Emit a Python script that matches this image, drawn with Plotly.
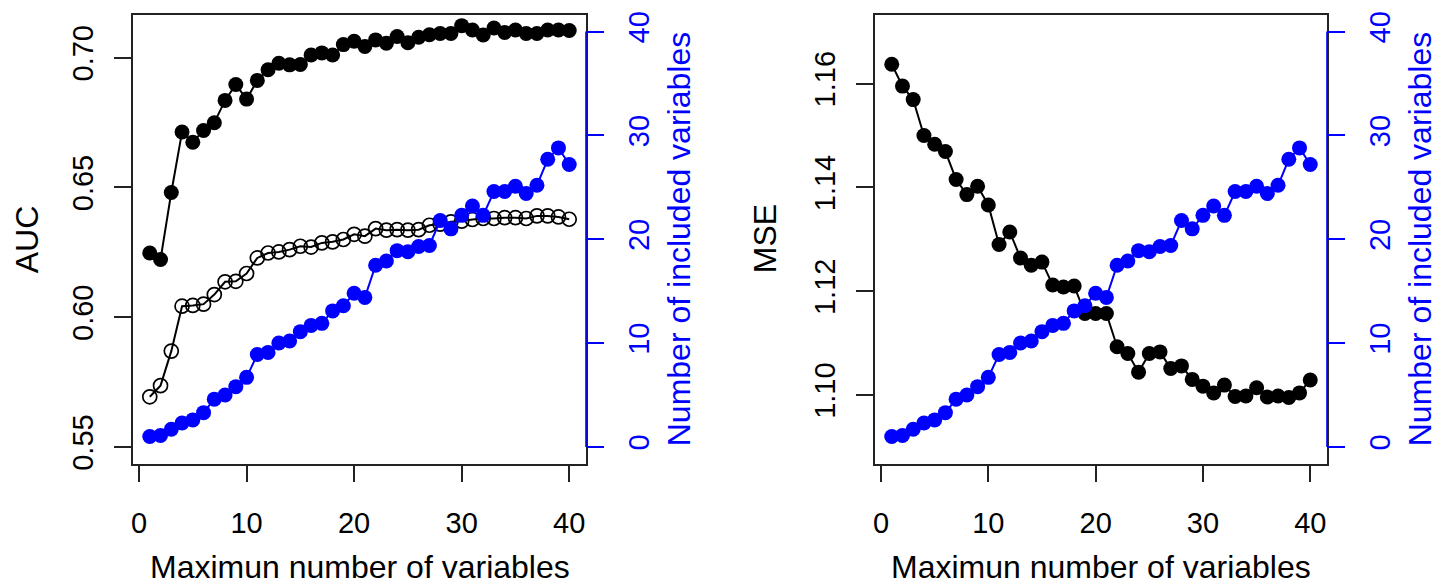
import plotly.graph_objects as go

# ---------------- data ----------------
max_vars = list(range(1, 41))

auc_filled = [0.6247, 0.6222, 0.6480, 0.6713, 0.6674, 0.6719, 0.6749, 0.6835, 0.6896, 0.6840,
              0.6912, 0.6953, 0.6978, 0.6972, 0.6973, 0.7010, 0.7018, 0.7010, 0.7050, 0.7063,
              0.7043, 0.7068, 0.7055, 0.7081, 0.7057, 0.7078, 0.7088, 0.7093, 0.7093, 0.7123,
              0.7106, 0.7087, 0.7114, 0.7097, 0.7106, 0.7093, 0.7093, 0.7106, 0.7106, 0.7104]

auc_open = [0.5693, 0.5736, 0.5869, 0.6042, 0.6045, 0.6050, 0.6087, 0.6136, 0.6138, 0.6168,
            0.6228, 0.6247, 0.6251, 0.6260, 0.6273, 0.6270, 0.6286, 0.6290, 0.6299, 0.6319,
            0.6312, 0.6341, 0.6335, 0.6337, 0.6335, 0.6337, 0.6354, 0.6358, 0.6367, 0.6370,
            0.6376, 0.6380, 0.6380, 0.6383, 0.6383, 0.6380, 0.6390, 0.6390, 0.6386, 0.6377]

n_included = [1.0, 1.1, 1.7, 2.3, 2.6, 3.3, 4.6, 5.0, 5.8, 6.7,
              8.9, 9.1, 10.0, 10.2, 11.1, 11.7, 11.9, 13.1, 13.6, 14.8,
              14.4, 17.5, 17.9, 18.9, 18.8, 19.3, 19.4, 21.8, 21.0, 22.3,
              23.2, 22.3, 24.6, 24.6, 25.1, 24.4, 25.2, 27.7, 28.8, 27.2]

mse = [1.1637, 1.1595, 1.1569, 1.1500, 1.1483, 1.1469, 1.1415, 1.1386, 1.1402, 1.1366,
       1.1290, 1.1314, 1.1264, 1.1250, 1.1256, 1.1212, 1.1208, 1.1210, 1.1157, 1.1157,
       1.1157, 1.1093, 1.1080, 1.1044, 1.1080, 1.1083, 1.1051, 1.1056, 1.1030, 1.1017,
       1.1004, 1.1019, 1.0997, 1.0998, 1.1014, 1.0996, 1.0998, 1.0995, 1.1004, 1.1029]

x_ticks = [0, 10, 20, 30, 40]
auc_ticks = [0.55, 0.60, 0.65, 0.70]
mse_ticks = [1.10, 1.12, 1.14, 1.16]
n_ticks = [0, 10, 20, 30, 40]

x_title = "Maximun number of variables"
auc_title = "AUC"
mse_title = "MSE"
n_title = "Number of included variables"

# ---------------- styling ----------------
W, H = 1446, 587
FONT = "Liberation Sans, Arial, Helvetica, sans-serif"
TICK_SIZE = 29
TITLE_SIZE = 32
BLUE = "#0000FF"
FRAME = "#222222"
LW = 2
MS = 15

# plot boxes in pixels
L1, R1 = 133, 586
L2, R2 = 875, 1327
TOP, BOT = 15, 463.5

def px_x(p):
    return p / W

def px_y(p):
    return 1 - p / H

fig = go.Figure()

def line_trace(y, xa, ya, color, open_marker=False):
    return go.Scatter(
        x=max_vars, y=y, xaxis=xa, yaxis=ya, mode="lines+markers",
        line=dict(color=color, width=LW),
        marker=dict(
            symbol="circle-open" if open_marker else "circle",
            size=MS - 1 if open_marker else MS,
            color=color,
            line=dict(color=color, width=1.7 if open_marker else 0),
        ),
        showlegend=False, hoverinfo="skip",
    )

fig.add_trace(line_trace(auc_filled, "x", "y", "black"))
fig.add_trace(line_trace(auc_open, "x", "y", "black", open_marker=True))
fig.add_trace(line_trace(n_included, "x", "y2", BLUE))
fig.add_trace(line_trace(mse, "x2", "y3", "black"))
fig.add_trace(line_trace(n_included, "x2", "y4", BLUE))

xrange = [-0.56, 41.56]
common_tick = dict(ticks="outside", ticklen=17, tickwidth=1.5, showgrid=False,
                   zeroline=False, automargin=False,
                   tickfont=dict(family=FONT, size=TICK_SIZE, color="black"))

def xaxis(domain, anchor):
    return dict(domain=domain, anchor=anchor, range=xrange, tickvals=x_ticks,
                showline=True, linecolor=FRAME, linewidth=1.5, mirror=True,
                tickcolor=FRAME, ticklabelstandoff=16, **common_tick)

def yleft(anchor, rng, vals):
    return dict(domain=[px_y(BOT), px_y(TOP)], anchor=anchor, range=rng, tickvals=vals,
                tickformat=".2f", tickangle=-90, showline=True, linecolor=FRAME,
                linewidth=1.5, mirror=True, tickcolor=FRAME, ticklabelstandoff=10,
                **common_tick)

def yright(overlay, anchor):
    d = dict(common_tick)
    d["tickfont"] = dict(family=FONT, size=TICK_SIZE, color=BLUE)
    return dict(overlaying=overlay, anchor=anchor, side="right", range=[-1.6, 41.6],
                tickvals=n_ticks, tickangle=-90, showline=False, tickcolor=BLUE,
                ticklabelstandoff=10, **d)

fig.update_layout(
    width=W, height=H, autosize=False,
    margin=dict(l=0, r=0, t=0, b=0, pad=0),
    paper_bgcolor="white", plot_bgcolor="white",
    font=dict(family=FONT, color="black"),
    xaxis=xaxis([px_x(L1), px_x(R1)], "y"),
    xaxis2=xaxis([px_x(L2), px_x(R2)], "y3"),
    yaxis=yleft("x", [0.5436, 0.7164], auc_ticks),
    yaxis2=yright("y", "x"),
    yaxis3=yleft("x2", [1.0868, 1.1732], mse_ticks),
    yaxis4=yright("y3", "x2"),
)

# blue right-axis lines spanning 0..40 (as in R's axis())
for xa, ya in (("x", "y2"), ("x2", "y4")):
    fig.add_shape(type="line", xref=f"{xa} domain", yref=ya, x0=1, x1=1,
                  y0=n_ticks[0], y1=n_ticks[-1], line=dict(color=BLUE, width=1.6))

# axis titles
ann = []
for cx in ((L1 + R1) / 2, (L2 + R2) / 2):
    ann.append(dict(text=x_title, x=px_x(cx), y=px_y(567), xref="paper", yref="paper",
                    showarrow=False, font=dict(family=FONT, size=TITLE_SIZE, color="black"),
                    xanchor="center", yanchor="middle"))
mid = (TOP + BOT) / 2
ann.append(dict(text=auc_title, x=px_x(27), y=px_y(mid), xref="paper", yref="paper",
                showarrow=False, textangle=-90,
                font=dict(family=FONT, size=TITLE_SIZE, color="black"),
                xanchor="center", yanchor="middle"))
ann.append(dict(text=mse_title, x=px_x(765), y=px_y(mid), xref="paper", yref="paper",
                showarrow=False, textangle=-90,
                font=dict(family=FONT, size=TITLE_SIZE, color="black"),
                xanchor="center", yanchor="middle"))
for cx in (679, 1420):
    ann.append(dict(text=n_title, x=px_x(cx), y=px_y(mid), xref="paper", yref="paper",
                    showarrow=False, textangle=-90,
                    font=dict(family=FONT, size=TITLE_SIZE, color=BLUE),
                    xanchor="center", yanchor="middle"))
fig.update_layout(annotations=ann)

fig.write_html("out.html",
               config={"displayModeBar": False},
               post_script="document.body.style.margin='0';document.body.style.overflow='hidden';")
